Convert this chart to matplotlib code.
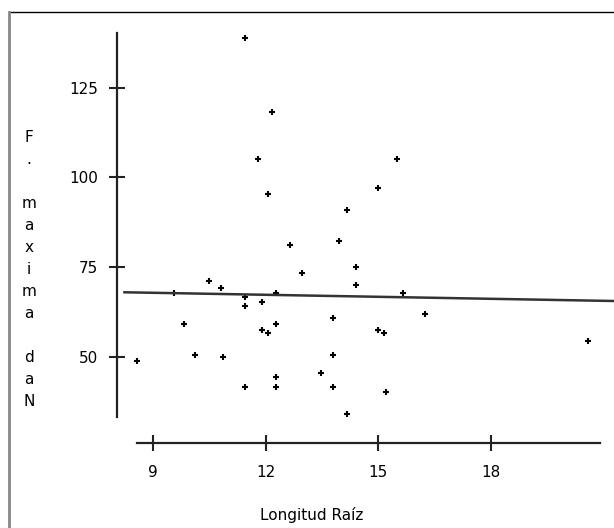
import numpy as np
import matplotlib.pyplot as plt
from matplotlib.lines import Line2D

# datos
longitud = [11.45, 12.17, 11.79, 12.07, 14.17, 15.49, 15.00, 12.65, 13.95, 14.40,
            12.97, 10.48, 10.81, 14.40, 9.55, 11.45, 12.27, 11.90, 11.45, 13.80,
            9.83, 12.27, 11.90, 12.06, 10.10, 10.86, 13.80, 8.57, 13.46, 12.27,
            11.45, 12.27, 13.80, 14.17, 15.65, 16.25, 14.99, 15.16, 20.60, 15.21]
fmax = [138.8, 118.2, 105.1, 95.4, 90.9, 105.1, 97.1, 81.2, 82.3, 75.0,
        73.2, 71.0, 69.2, 69.9, 67.7, 66.6, 67.7, 65.3, 64.1, 60.7,
        59.0, 59.0, 57.4, 56.7, 50.5, 49.9, 50.5, 48.8, 45.4, 44.3,
        41.5, 41.5, 41.5, 34.0, 67.7, 61.8, 57.4, 56.7, 54.5, 40.2]
xticks = [9, 12, 15, 18]
yticks = [50, 75, 100, 125]
ylabel = "F. maxima daN"
xlabel = "Longitud Raíz"

W, H = 614, 528
fig = plt.figure(figsize=(W / 100, H / 100), dpi=100)
plt.rcParams['font.family'] = 'DejaVu Sans'

# ejes en pixeles: x 117..600, y 33..443
ax = fig.add_axes([117 / W, 1 - 443 / H, (600 - 117) / W, (443 - 33) / H])
ax.set_xlim(8.032, 20.91)
ax.set_ylim(25.94, 140.2)

ax.plot(longitud, fmax, linestyle='none', marker='+', ms=5, mew=1.5, color='black')

# recta de regresion
b, a = np.polyfit(longitud, fmax, 1)
xr = np.array([8.23, 21.29])
ax.plot(xr, a + b * xr, color='#333333', lw=1.8, clip_on=False)

for s in ['top', 'right']:
    ax.spines[s].set_visible(False)
ax.spines['left'].set_bounds(33.2, 140.2)
ax.spines['bottom'].set_bounds(8.56, 20.91)
for s in ['left', 'bottom']:
    ax.spines[s].set_linewidth(1.6)
    ax.spines[s].set_color('#222222')

ax.set_xticks(xticks)
ax.set_yticks(yticks)
ax.tick_params(direction='inout', length=11, width=1.5, color='#222222',
               labelsize=11, pad=8)
ax.tick_params(axis='x', pad=10)

fig.text(312 / W, 1 - 515 / H, xlabel, ha='center', va='center', fontsize=11)
for i, ch in enumerate(ylabel):
    fig.text(29 / W, 1 - (138 + 22 * i) / H, ch, ha='center', va='center', fontsize=11)

# marco de la ventana
fig.add_artist(Line2D([9 / W, 1], [1 - 12 / H, 1 - 12 / H], color='black', lw=1))
fig.add_artist(Line2D([9 / W, 9 / W], [0, 1 - 12 / H], color='#888888', lw=2))

plt.savefig('out.png')
